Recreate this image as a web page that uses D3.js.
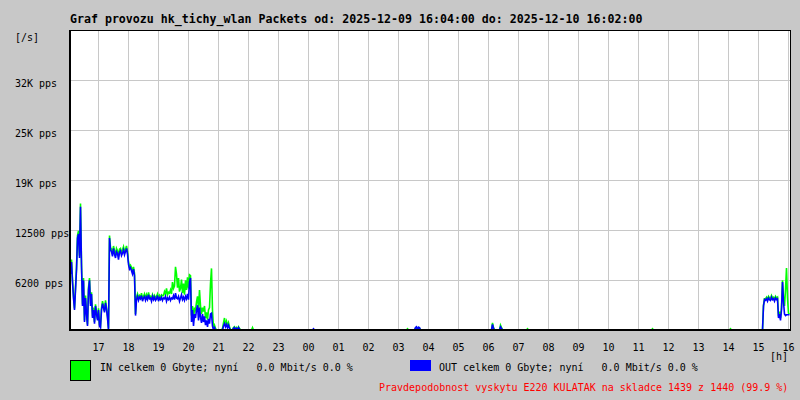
<!DOCTYPE html>
<html>
<head>
    <title>hk_tichy_wlan Packets</title>
    <script src="https://d3js.org/d3.v7.min.js"></script>
    <style>
        body { margin: 0; background: #c8c8c8; }
        svg { display: block; }
        text { font-family: "DejaVu Sans Mono", "Liberation Mono", monospace; white-space: pre; }
    </style>
</head>
<body>
<svg width="800" height="400"></svg>
<script>
    // hodiny na ose X (od 17:00, start grafu je 16:04)
    const hourLabels = ["17", "18", "19", "20", "21", "22", "23", "00", "01", "02", "03", "04",
        "05", "06", "07", "08", "09", "10", "11", "12", "13", "14", "15", "16"];
    const firstHourMin = 56; // 16:04 -> 17:00
    const yTicks = [6250, 12500, 18750, 25000, 31250];
    const yLabels = ["6200 pps", "12500 pps", "19K pps", "25K pps", "32K pps"];

    // vzorky po 2 minutach, pps
    // usek 1: od 16:04 (vzorek 0)
    const inStart = [
        7300, 8800, 6200, 4200, 2700, 5300, 7800, 11800, 12400, 9300,
        15800, 8300, 3200, 6500, 1200, 4300, 2200, 700, 5300, 6500,
        3300, 4700, 1700, 2800, 1000, 3200, 2300, 1400, 2700, 700,
        500, 2700, 3600, 3000, 2400, 3700, 2800, 1700, 200, 11800,
        10300, 10100, 9600, 10500, 9900, 9300, 10200, 9900, 9200, 10100,
        10200, 9700, 10000, 10400, 9800, 10100, 10500, 9800, 8500, 7900,
        8100, 7800, 7300, 7900, 7100, 2000, 4100, 4500, 4000, 4300,
        4100, 4600, 3900, 4200, 4500, 3900, 4400, 4000, 4700, 4100,
        4200, 3900, 4400, 4000, 4300, 3900, 4200, 4500, 3900, 4300,
        4000, 4400, 4300, 4300, 4800, 4500, 5200, 4400, 4700, 4600,
        5000, 4500, 6000, 5200, 5500, 7900, 7000, 5300, 6500, 4800,
        5200, 6300, 4600, 5800, 4400, 6200, 5000, 6600, 5200, 6900,
        6800, 1800, 3000, 1200, 2800, 2500, 3500, 4200, 2600, 5000,
        3000, 2000, 2800, 2300, 3000, 1500, 2200, 1300, 2500, 2800,
        5800, 7700, 2400, 300, 600, 200, 0, 0, 0, 0,
        0, 0, 200, 900, 1500, 700, 1100, 500, 900, 400,
        0, 0, 0, 300, 400, 100, 300, 100, 400, 200
    ];
    const outStart = [
        7000, 8500, 6000, 4000, 2500, 5000, 7500, 11500, 12000, 9000,
        15400, 8000, 3000, 6200, 1000, 4000, 2000, 500, 5000, 6200,
        3000, 4500, 1500, 2500, 800, 3000, 2000, 1200, 2500, 500,
        300, 2500, 3300, 2800, 2200, 3400, 2600, 1500, 0, 11500,
        10000, 9800, 9200, 10200, 9500, 9000, 9800, 9600, 8800, 9700,
        9900, 9300, 9600, 10000, 9400, 9800, 10200, 9500, 8200, 7600,
        7800, 7400, 7000, 7600, 6800, 1800, 3800, 4200, 3700, 4100,
        3900, 4300, 3600, 4000, 4200, 3700, 4100, 3800, 4400, 3900,
        4000, 3600, 4200, 3800, 4100, 3700, 3900, 4300, 3600, 4000,
        3800, 4100, 3700, 4000, 3900, 4200, 3600, 4000, 3800, 4100,
        3700, 4000, 3900, 4300, 3800, 4600, 4000, 3900, 4200, 3600,
        4000, 4400, 3800, 4100, 3700, 4200, 3900, 4500, 3800, 6000,
        6500, 1000, 2500, 500, 2000, 1500, 2500, 3100, 1200, 2800,
        1600, 900, 2000, 1000, 1700, 600, 1200, 400, 1400, 800,
        2000, 2100, 500, 0, 300, 0, 0, 0, 0, 0,
        0, 0, 0, 500, 800, 400, 700, 300, 600, 200,
        0, 0, 0, 200, 300, 0, 200, 0, 300, 100
    ];
    // usek 2: od vzorku 686 (cca 14:56) do konce
    const endIndex = 686;
    const inEnd = [0, 0, 0, 0, 0, 0, 0,
        3100, 3900, 3900, 4100, 3800, 4200, 4000, 3900, 4300, 4000, 4100, 3800, 4200, 4000, 4100,
        1700, 2300, 1500, 2800, 6200, 4000, 3000, 5000, 7750, 4000, 2100, 2000];
    const outEnd = [0, 0, 0, 0, 0, 0, 0,
        3000, 3800, 3700, 3900, 3600, 4000, 3800, 3700, 4100, 3800, 3900, 3600, 4000, 3800, 3900,
        1500, 2000, 1200, 2500, 6000, 3500, 2000, 1800, 1900, 1900, 1900, 1900];
    // ojedinele spicky: [vzorek, IN, OUT]
    const spikes = [
        [182, 300, 0], [243, 0, 150], [337, 150, 0], [345, 200, 300], [346, 300, 400],
        [348, 300, 350], [349, 200, 300], [422, 900, 700], [423, 300, 200], [430, 600, 400],
        [431, 300, 200], [457, 150, 0], [582, 150, 0], [660, 150, 0]
    ];
    const nSamples = 720;

    const title = "Graf provozu hk_tichy_wlan Packets od: 2025-12-09 16:04:00 do: 2025-12-10 16:02:00";
    const inLegend = "IN celkem 0 Gbyte; nyní   0.0 Mbit/s 0.0 %";
    const outLegend = "OUT celkem 0 Gbyte; nyní   0.0 Mbit/s 0.0 %";
    const footer = "Pravdepodobnost vyskytu E220 KULATAK na skladce 1439 z 1440 (99.9 %)";

    // sestaveni rad
    let inData = new Array(nSamples).fill(0);
    let outData = new Array(nSamples).fill(0);
    inStart.forEach((v, i) => inData[i] = v);
    outStart.forEach((v, i) => outData[i] = v);
    inEnd.forEach((v, i) => inData[endIndex + i] = v);
    outEnd.forEach((v, i) => outData[endIndex + i] = v);
    spikes.forEach(s => { inData[s[0]] = s[1]; outData[s[0]] = s[2]; });

    let svg = d3.select("svg");
    const pLeft = 70, pRight = 790, pTop = 30, pBottom = 330;

    let x = d3.scaleLinear().domain([0, 1440]).range([pLeft, pRight]);
    let y = d3.scaleLinear().domain([0, 37500]).range([pBottom, pTop]);

    svg.append("rect").attr("width", 800).attr("height", 400).attr("fill", "#c8c8c8");
    svg.append("rect").attr("x", pLeft).attr("y", pTop)
        .attr("width", pRight - pLeft).attr("height", pBottom - pTop).attr("fill", "#fff");

    const hourMins = hourLabels.map((d, i) => firstHourMin + 60 * i);

    // mrizka
    let grid = svg.append("g").attr("stroke", "#c8c8c8").attr("stroke-width", 1);
    grid.selectAll(".vg").data(hourMins).join("line")
        .attr("x1", d => Math.round(x(d)) + 0.5).attr("x2", d => Math.round(x(d)) + 0.5)
        .attr("y1", pTop).attr("y2", pBottom);
    grid.selectAll(".hg").data(yTicks).join("line")
        .attr("x1", pLeft).attr("x2", pRight)
        .attr("y1", d => Math.round(y(d)) + 0.5).attr("y2", d => Math.round(y(d)) + 0.5);

    // data
    svg.append("clipPath").attr("id", "plot").append("rect")
        .attr("x", pLeft).attr("y", pTop).attr("width", pRight - pLeft).attr("height", pBottom - pTop);

    let line = d3.line()
        .x((d, i) => x(i * 2) + 0.5)
        .y(d => y(d));

    svg.append("path").datum(inData)
        .attr("clip-path", "url(#plot)")
        .attr("fill", "none").attr("stroke", "#00ff00").attr("stroke-width", 1.6)
        .attr("d", line);
    svg.append("path").datum(outData)
        .attr("clip-path", "url(#plot)")
        .attr("fill", "none").attr("stroke", "#0000ff").attr("stroke-width", 1.6)
        .attr("d", line);

    // ramecek
    svg.append("line").attr("x1", pLeft).attr("x2", pRight + 0.5).attr("y1", pTop + 0.5).attr("y2", pTop + 0.5)
        .attr("stroke", "#000");
    svg.append("line").attr("x1", pRight + 0.5).attr("x2", pRight + 0.5).attr("y1", pTop).attr("y2", pBottom)
        .attr("stroke", "#000");
    svg.append("line").attr("x1", pLeft).attr("x2", pLeft).attr("y1", pTop).attr("y2", pBottom + 1)
        .attr("stroke", "#000").attr("stroke-width", 2);
    svg.append("line").attr("x1", pLeft).attr("x2", pRight + 1).attr("y1", pBottom).attr("y2", pBottom)
        .attr("stroke", "#000").attr("stroke-width", 2);

    // popisky
    svg.append("text").attr("x", pLeft).attr("y", 23)
        .attr("font-size", "11.6px").attr("font-weight", "bold").attr("fill", "#000")
        .text(title);
    svg.append("text").attr("x", 15).attr("y", 41).attr("font-size", "10px").text("[/s]");

    svg.selectAll(".yl").data(yTicks).join("text")
        .attr("x", 15).attr("y", d => y(d) + 6.5)
        .attr("font-size", "10px").attr("fill", "#000")
        .text((d, i) => yLabels[i]);

    svg.selectAll(".xl").data(hourMins).join("text")
        .attr("x", d => x(d) + 0.5).attr("y", 351)
        .attr("text-anchor", "middle")
        .attr("font-size", "10px").attr("fill", "#000")
        .text((d, i) => hourLabels[i]);
    svg.append("text").attr("x", 770).attr("y", 360).attr("font-size", "10px").text("[h]");

    // legenda
    svg.append("rect").attr("x", 70.5).attr("y", 360.5).attr("width", 20).attr("height", 20)
        .attr("fill", "#00ff00").attr("stroke", "#000");
    svg.append("text").attr("x", 100).attr("y", 370.5).attr("font-size", "10px").text(inLegend);
    svg.append("rect").attr("x", 410).attr("y", 360).attr("width", 21).attr("height", 11)
        .attr("fill", "#0000ff");
    svg.append("text").attr("x", 439).attr("y", 370.5).attr("font-size", "10px").text(outLegend);
    svg.append("text").attr("x", 379).attr("y", 390.5).attr("font-size", "10px")
        .attr("fill", "#ff0000").text(footer);
</script>
</body>
</html>
